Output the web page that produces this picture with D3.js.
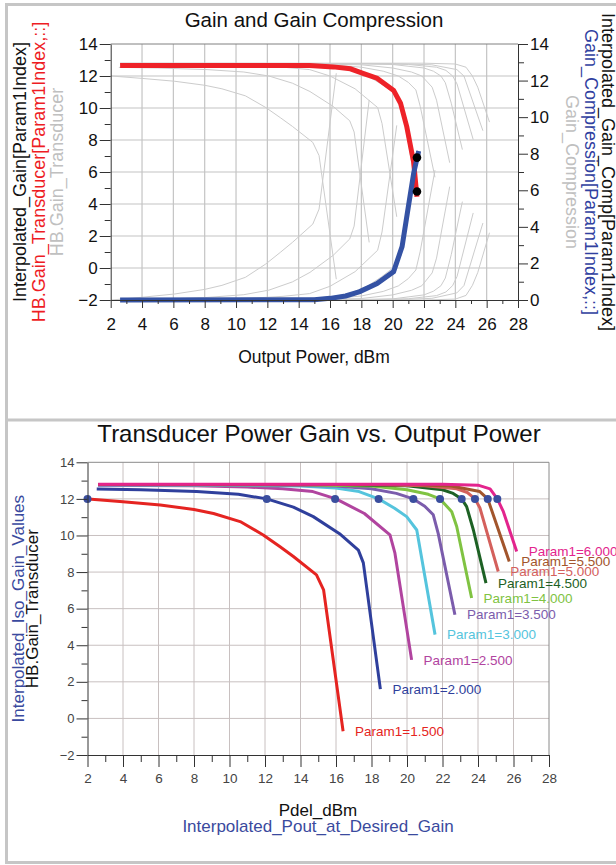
<!DOCTYPE html>
<html><head><meta charset="utf-8">
<script src="https://cdn.jsdelivr.net/npm/d3@7"></script>
<style>
html,body{margin:0;padding:0;background:#fff;}
svg{display:block;font-family:"Liberation Sans",Arial,sans-serif;}
</style></head>
<body><svg id="c" width="616" height="865"></svg>
<script>
// ---------------- DATA ----------------
const paramLabels = ["Param1=1.500","Param1=2.000","Param1=2.500","Param1=3.000","Param1=3.500","Param1=4.000","Param1=4.500","Param1=5.000","Param1=5.500","Param1=6.000"];
// HB.Pdel_dBm per Param1 sweep
const pdel = [
  [2.05,4.0,6.1,8.0,9.1,10.6,11.9,12.85,13.6,14.9,15.3,16.4],
  [2.52,5.0,8.15,10.5,12.1,13.6,14.72,16.2,17.26,17.54,18.5],
  [2.6,8.0,11.0,13.0,14.7,16.0,17.6,19.04,19.32,20.26],
  [2.6,10.0,14.0,16.0,17.3,18.4,19.3,19.98,20.55,21.58],
  [2.6,12.0,16.0,18.0,19.4,20.36,21.0,21.48,21.76,22.7],
  [2.6,14.0,18.0,20.0,21.2,21.86,22.52,22.8,23.64],
  [2.6,16.0,20.0,22.0,22.6,23.08,23.36,23.74,24.45],
  [2.6,18.0,21.0,22.8,23.4,23.83,24.11,25.14],
  [2.6,20.0,22.5,24.1,24.55,25.76],
  [2.6,22.0,24.0,24.68,25.09,25.43,26.18]
];
// HB.Gain_Transducer per Param1 sweep (dB)
const gainTransducer = [
  [12.0,11.85,11.67,11.42,11.2,10.76,10.03,9.38,8.85,7.85,7.03,-0.7],
  [12.54,12.5,12.4,12.25,12.0,11.55,11.03,10.1,9.2,8.5,1.6],
  [12.75,12.72,12.65,12.55,12.4,12.0,11.2,10.03,9.03,3.2],
  [12.76,12.74,12.7,12.6,12.4,12.0,11.49,11.03,10.3,4.58],
  [12.77,12.76,12.7,12.55,12.3,12.0,11.6,11.13,10.1,5.67],
  [12.78,12.77,12.7,12.5,12.25,12.0,11.3,10.49,6.58],
  [12.78,12.78,12.72,12.5,12.3,12.0,11.58,10.3,7.4],
  [12.79,12.78,12.72,12.55,12.35,12.0,11.5,8.03],
  [12.79,12.78,12.7,12.4,12.0,8.58],
  [12.8,12.8,12.75,12.55,12.0,11.3,9.12]
];
// Gain_Compression per Param1 sweep (dB)
const gainCompression = [
  [0,0.15,0.33,0.58,0.8,1.24,1.97,2.62,3.15,4.15,4.97,12.4],
  [0,0.04,0.14,0.29,0.54,0.99,1.51,2.44,3.34,4.04,10.94],
  [0,0.03,0.1,0.2,0.35,0.75,1.55,2.72,3.72,9.55],
  [0,0.02,0.06,0.16,0.36,0.76,1.27,1.73,2.46,8.18],
  [0,0.01,0.07,0.22,0.47,0.77,1.17,1.64,2.67,7.1],
  [0,0.01,0.08,0.28,0.53,0.78,1.48,2.29,6.2],
  [0,0,0.06,0.28,0.48,0.78,1.2,2.48,5.38],
  [0,0.01,0.07,0.24,0.44,0.79,1.29,4.76],
  [0,0.01,0.09,0.39,0.79,4.21],
  [0,0,0.05,0.25,0.8,1.5,3.68]
];
// Interpolated gain / compression at Param1Index
const interpPout = [2.6,14.7,16.2,17.3,18.15,19.0,20.06,20.5,20.9,21.34,21.55];
const interpGain = [12.65,12.65,12.57,12.45,12.15,11.86,11.1,10.3,8.83,6.6,4.45];
const interpCompPout = [2.6,15.0,16.0,17.0,17.9,19.0,20.06,20.6,21.0,21.34,21.66];
const interpComp = [0,0.02,0.09,0.22,0.46,0.9,1.55,2.92,5.1,6.93,8.15];
const markerPout = [21.55,21.55];
const markerGain = [6.9,4.78];
// Interpolated iso-gain points
const isoPout = [2.0,12.1,15.95,18.4,20.36,21.86,23.08,23.83,24.55,25.09];
const isoGain = [12,12,12,12,12,12,12,12,12,12];
// Tick values
const xTicks = [2,4,6,8,10,12,14,16,18,20,22,24,26,28];
const yLeftTicks = [-2,0,2,4,6,8,10,12,14];
const yRightTicks = [0,2,4,6,8,10,12,14];

// ---------------- STYLE ----------------
const colors = ["#e52421","#2f3f9c","#b1449f","#55c4dd","#7b5cac","#80c342","#1d6124","#d4605c","#a2552c","#e3248d"];
const FONT = '"Liberation Sans",Arial,sans-serif';

const svg = d3.select("#c");

// outer frame
svg.append("rect").attr("x",6.5).attr("y",4.5).attr("width",640).attr("height",858)
  .attr("fill","none").attr("stroke","#c6c6c6").attr("stroke-width",3);
svg.append("line").attr("x1",6).attr("x2",616).attr("y1",420).attr("y2",420)
  .attr("stroke","#c6c6c6").attr("stroke-width",3);

// ================= TOP CHART =================
const T = {l:110.7, r:518, t:44, b:300};
const xT = d3.scaleLinear().domain([2,28]).range([T.l,T.r]);
const yL = d3.scaleLinear().domain([-2,14]).range([T.b,T.t]);
const yR = d3.scaleLinear().domain([0,14]).range([T.b,T.t]);
const gTop = svg.append("g");

// grid
gTop.append("g").selectAll("line").data(xTicks.filter(d=>d>2&&d<28)).join("line")
  .attr("x1",d=>xT(d)).attr("x2",d=>xT(d)).attr("y1",T.t).attr("y2",T.b)
  .attr("stroke","#c4c4c4").attr("stroke-width",1.2);
gTop.append("g").selectAll("line").data(yLeftTicks.filter(d=>d>-2&&d<14)).join("line")
  .attr("x1",T.l).attr("x2",T.r).attr("y1",d=>yL(d)).attr("y2",d=>yL(d))
  .attr("stroke","#c4c4c4").attr("stroke-width",1.2);
gTop.append("line").attr("x1",T.l).attr("x2",T.r).attr("y1",T.t).attr("y2",T.t)
  .attr("stroke","#808080").attr("stroke-width",1);

// gray curves
const lineL = d3.line().x(d=>xT(d[0])).y(d=>yL(d[1]));
const lineR = d3.line().x(d=>xT(d[0])).y(d=>yR(d[1]));
pdel.forEach((xs,i)=>{
  gTop.append("path").attr("d",lineL(xs.map((x,j)=>[x,gainTransducer[i][j]])))
    .attr("fill","none").attr("stroke","#cccccc").attr("stroke-width",1);
  gTop.append("path").attr("d",lineR(xs.map((x,j)=>[x,gainCompression[i][j]])))
    .attr("fill","none").attr("stroke","#cccccc").attr("stroke-width",1);
});
// thick curves
gTop.append("path").attr("d",lineL(interpPout.map((x,j)=>[x,interpGain[j]])))
  .attr("fill","none").attr("stroke","#ee2228").attr("stroke-width",5);
gTop.append("path").attr("d",lineR(interpCompPout.map((x,j)=>[x,interpComp[j]])))
  .attr("fill","none").attr("stroke","#3452a4").attr("stroke-width",5);
gTop.append("g").selectAll("circle").data(markerPout).join("circle")
  .attr("cx",d=>xT(d)).attr("cy",(d,i)=>yL(markerGain[i])).attr("r",4.3).attr("fill","#000");

// axes
function styleAxis(g, fs, col){
  g.selectAll("text").attr("font-family",FONT).attr("font-size",fs).attr("fill",col);
  g.selectAll("line").attr("stroke","#333");
  g.select(".domain").attr("stroke","#333");
}
function minor(g){ g.select(".domain").remove(); g.selectAll("line").attr("stroke","#333"); }
const oddX = d3.range(3,28,2), oddL = d3.range(-1,14,2), oddR = d3.range(1,14,2);
const axL = gTop.append("g").attr("transform",`translate(${T.l},0)`)
  .call(d3.axisLeft(yL).tickValues(yLeftTicks).tickSize(11).tickPadding(2).tickSizeOuter(0));
styleAxis(axL,17,"#111");
gTop.append("g").attr("transform",`translate(${T.l},0)`)
  .call(d3.axisLeft(yL).tickValues(oddL).tickSize(6).tickFormat("")).call(minor);
const axR = gTop.append("g").attr("transform",`translate(${T.r},0)`)
  .call(d3.axisRight(yR).tickValues(yRightTicks).tickSize(10).tickPadding(2).tickSizeOuter(0));
styleAxis(axR,17,"#111");
gTop.append("g").attr("transform",`translate(${T.r},0)`)
  .call(d3.axisRight(yR).tickValues(oddR).tickSize(6).tickFormat("")).call(minor);
const axB = gTop.append("g").attr("transform",`translate(0,${T.b})`)
  .call(d3.axisBottom(xT).tickValues(xTicks).tickSize(8).tickPadding(10).tickSizeOuter(0));
styleAxis(axB,17,"#111");
gTop.append("g").attr("transform",`translate(0,${T.b})`)
  .call(d3.axisBottom(xT).tickValues(oddX).tickSize(4).tickFormat("")).call(minor);

// texts
function txt(g,x,y,s,fs,col,rot,anchor){
  return g.append("text").attr("transform",`translate(${x},${y})`+(rot?` rotate(${rot})`:""))
    .attr("text-anchor",anchor||"middle").attr("font-family",FONT).attr("font-size",fs)
    .attr("fill",col).text(s);
}
txt(gTop,314,27,"Gain and Gain Compression",20.5,"#111",0);
txt(gTop,314,362.5,"Output Power, dBm",17.5,"#111",0);
const cy = (T.t+T.b)/2;
txt(gTop,25.5,cy,"Interpolated_Gain[Param1Index]",18,"#111",-90);
txt(gTop,44.5,cy,"HB.Gain_Transducer[Param1Index,::]",18,"#ee1c24",-90);
txt(gTop,63,cy,"HB.Gain_Transducer",18,"#c0c0c0",-90);
txt(gTop,602,cy,"Interpolated_Gain_Comp[Param1Index]",18,"#111",90);
txt(gTop,585,cy,"Gain_Compression[Param1Index,::]",18,"#3040a0",90);
txt(gTop,565.5,cy,"Gain_Compression",18,"#c0c0c0",90);

// ================= BOTTOM CHART =================
const B = {l:87.5, r:549, t:462.3, b:755};
const xB = d3.scaleLinear().domain([2,28]).range([B.l,B.r]);
const yB = d3.scaleLinear().domain([-2,14]).range([B.b,B.t]);
const gBot = svg.append("g");

gBot.append("g").selectAll("line").data(xTicks.filter(d=>d>2&&d<28)).join("line")
  .attr("x1",d=>xB(d)).attr("x2",d=>xB(d)).attr("y1",B.t).attr("y2",B.b)
  .attr("stroke","#c8c0c0").attr("stroke-width",1);
gBot.append("g").selectAll("line").data(yLeftTicks.filter(d=>d>-2&&d<14)).join("line")
  .attr("x1",B.l).attr("x2",B.r).attr("y1",d=>yB(d)).attr("y2",d=>yB(d))
  .attr("stroke","#c8c0c0").attr("stroke-width",1);
gBot.append("line").attr("x1",B.l).attr("x2",B.r).attr("y1",B.t).attr("y2",B.t).attr("stroke","#8a8a8a");
gBot.append("line").attr("x1",B.r).attr("x2",B.r).attr("y1",B.t).attr("y2",B.b).attr("stroke","#8a8a8a");

const lineB = d3.line().x(d=>xB(d[0])).y(d=>yB(d[1]));
pdel.forEach((xs,i)=>{
  gBot.append("path").attr("d",lineB(xs.map((x,j)=>[x,gainTransducer[i][j]])))
    .attr("fill","none").attr("stroke",colors[i]).attr("stroke-width",3)
    .attr("stroke-linejoin","round");
});
gBot.append("g").selectAll("circle").data(isoPout).join("circle")
  .attr("cx",d=>xB(d)).attr("cy",(d,i)=>yB(isoGain[i])).attr("r",4).attr("fill","#3a4e9e");
pdel.forEach((xs,i)=>{
  const n = xs.length-1;
  gBot.append("text").attr("x",xB(xs[n])+12).attr("y",yB(gainTransducer[i][n]))
    .attr("dy","0.35em").attr("font-family",FONT).attr("font-size",13.5)
    .attr("fill",colors[i]).text(paramLabels[i]);
});

const bL = gBot.append("g").attr("transform",`translate(${B.l},0)`)
  .call(d3.axisLeft(yB).tickValues(yLeftTicks).tickSize(11).tickPadding(2).tickSizeOuter(0));
styleAxis(bL,13,"#444");
gBot.append("g").attr("transform",`translate(${B.l},0)`)
  .call(d3.axisLeft(yB).tickValues(oddL).tickSize(6).tickFormat("")).call(minor);
const bB = gBot.append("g").attr("transform",`translate(0,${B.b})`)
  .call(d3.axisBottom(xB).tickValues(xTicks).tickSize(12).tickPadding(6).tickSizeOuter(0));
styleAxis(bB,13.5,"#444");
gBot.append("g").attr("transform",`translate(0,${B.b})`)
  .call(d3.axisBottom(xB).tickValues(oddX).tickSize(7).tickFormat("")).call(minor);

txt(gBot,319,441.7,"Transducer Power Gain vs. Output Power",24,"#111",0);
txt(gBot,318,816,"Pdel_dBm",17,"#111",0);
txt(gBot,318,832,"Interpolated_Pout_at_Desired_Gain",17,"#3a4a9e",0);
const cyB = (B.t+B.b)/2;
txt(gBot,23.5,cyB,"Interpolated_Iso_Gain_Values",17,"#3a4a9e",-90);
txt(gBot,38,cyB,"HB.Gain_Transducer",17,"#111",-90);
</script></body></html>
